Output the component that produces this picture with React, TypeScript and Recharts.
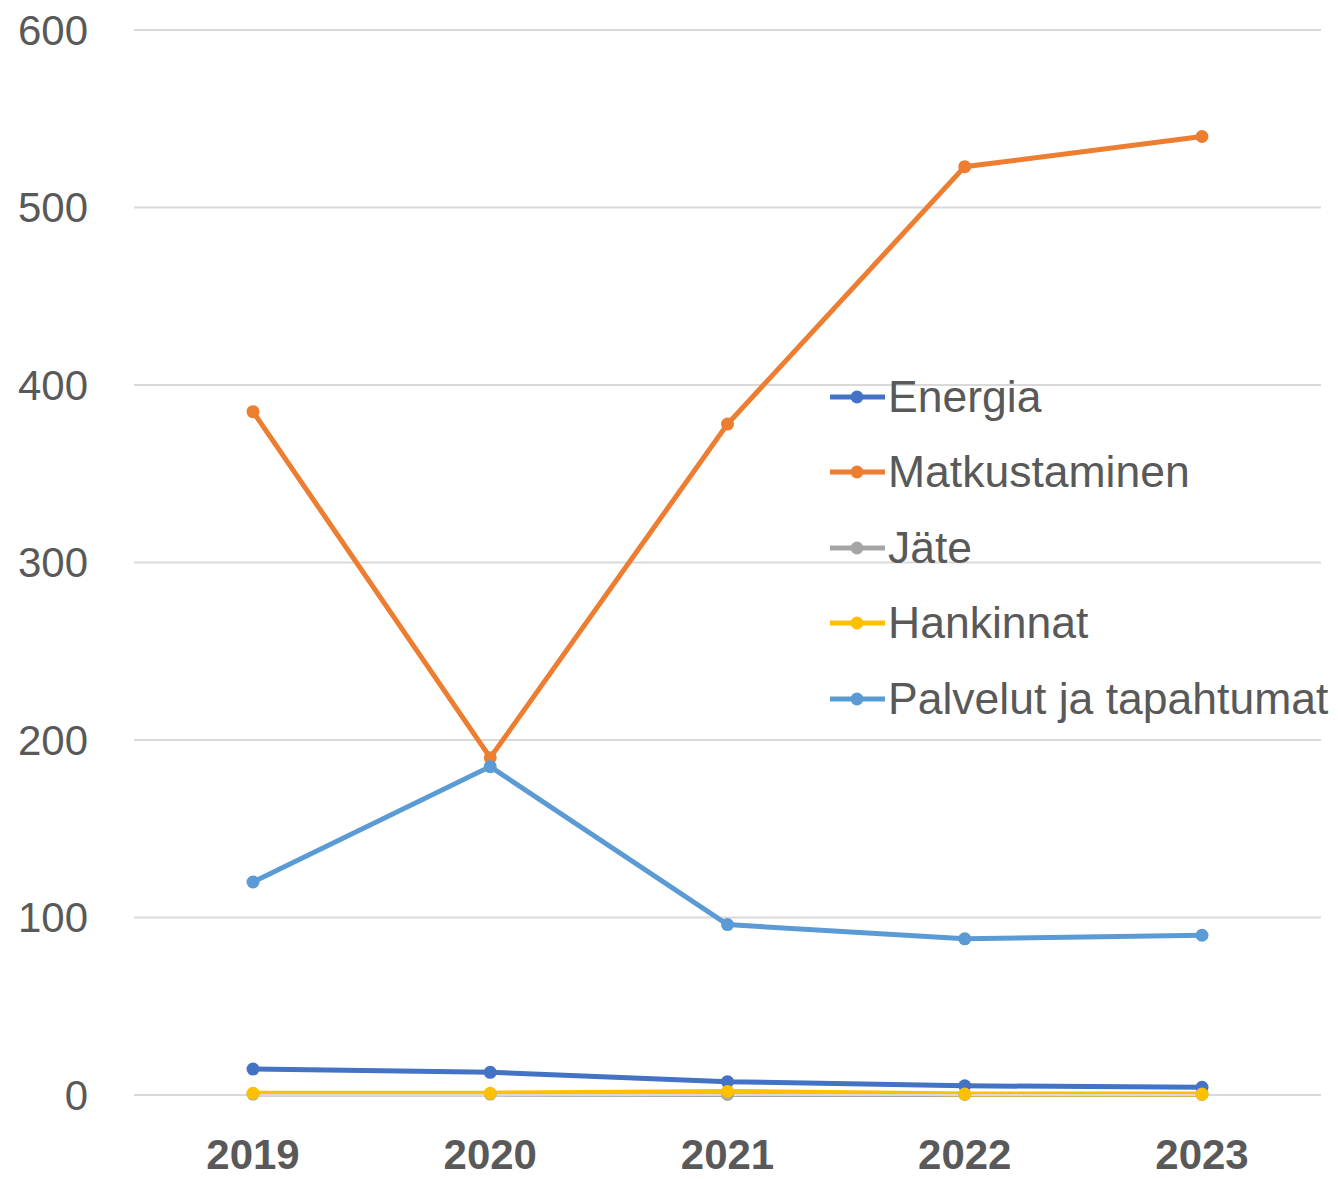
import { LineChart, Line, XAxis, YAxis, CartesianGrid } from 'recharts';

const years = ['2019', '2020', '2021', '2022', '2023'];

const energia = [14.6, 12.8, 7.5, 5.2, 4.3];
const matkustaminen = [385, 190, 378, 523, 540];
const jate = [0.5, 0.5, 0.3, 0.3, 0.3];
const hankinnat = [1, 1, 2, 0.5, 0.5];
const palvelut = [120, 185, 96, 88, 90];

const yTicks = [0, 100, 200, 300, 400, 500, 600];

const series = [
  { key: 'Energia', values: energia, color: '#4472C4' },
  { key: 'Matkustaminen', values: matkustaminen, color: '#ED7D31' },
  { key: 'Jäte', values: jate, color: '#A5A5A5' },
  { key: 'Hankinnat', values: hankinnat, color: '#FFC000' },
  { key: 'Palvelut ja tapahtumat', values: palvelut, color: '#5B9BD5' },
];

const data = years.map((year, i) => {
  const row: Record<string, string | number> = { year };
  series.forEach((s) => {
    row[s.key] = s.values[i];
  });
  return row;
});

const FONT = '"Liberation Sans", Arial, sans-serif';
const TEXT = '#595959';

// legend sits on top of the plot area, like the original
function LegendBox() {
  return (
    <div
      style={{
        position: 'absolute',
        left: 828,
        top: 359,
        fontFamily: FONT,
        fontSize: 44.5,
        color: TEXT,
      }}
    >
      {series.map((s) => (
        <div key={s.key} style={{ display: 'flex', alignItems: 'center', height: 75.5 }}>
          <svg width={60} height={20} style={{ flex: 'none' }}>
            <line x1={2} y1={10} x2={57} y2={10} stroke={s.color} strokeWidth={5} />
            <circle cx={29} cy={10} r={6.5} fill={s.color} />
          </svg>
          <span style={{ whiteSpace: 'nowrap' }}>{s.key}</span>
        </div>
      ))}
    </div>
  );
}

export default function App() {
  return (
    <div style={{ position: 'absolute', left: 0, top: 0, width: 1338, height: 1179, background: '#fff' }}>
      <LineChart
        width={1338}
        height={1179}
        data={data}
        margin={{ top: 30, right: 17, left: 0, bottom: 0 }}
      >
        <CartesianGrid vertical={false} stroke="#D9D9D9" strokeWidth={2} />
        <XAxis
          dataKey="year"
          height={84}
          padding={{ left: 119, right: 119 }}
          tickLine={false}
          tickSize={0}
          tickMargin={44}
          axisLine={{ stroke: '#D9D9D9', strokeWidth: 2 }}
          tick={{ fill: TEXT, fontSize: 42, fontWeight: 'bold', fontFamily: FONT }}
        />
        <YAxis
          width={134}
          domain={[0, 600]}
          ticks={yTicks}
          axisLine={false}
          tickLine={false}
          tickSize={0}
          tickMargin={46}
          tick={{ fill: TEXT, fontSize: 42, fontFamily: FONT }}
        />
        {series.map((s) => (
          <Line
            key={s.key}
            dataKey={s.key}
            stroke={s.color}
            strokeWidth={5}
            dot={{ r: 6.5, fill: s.color, stroke: s.color, strokeWidth: 0 }}
            activeDot={false}
            isAnimationActive={false}
          />
        ))}
      </LineChart>
      <LegendBox />
    </div>
  );
}
